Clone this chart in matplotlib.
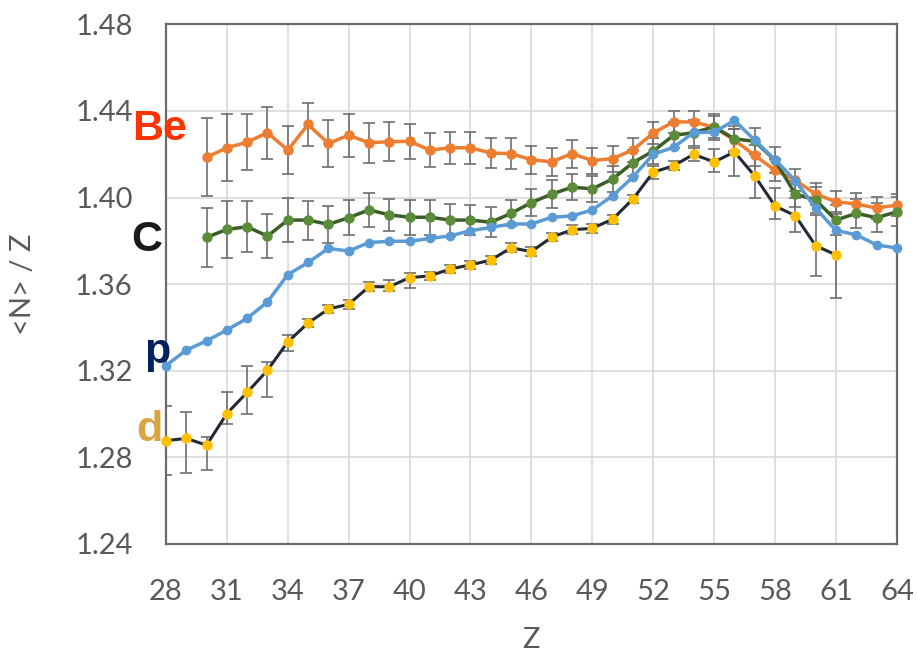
import numpy as np
import matplotlib
matplotlib.use('Agg')
import matplotlib.pyplot as plt

# <N>/Z vs Z for p, d, Be, C fragments
z_p = list(range(28, 65))
n_p = [1.3224, 1.3295, 1.3338, 1.3388, 1.3442, 1.3518, 1.3644, 1.3700, 1.3765, 1.3753,
       1.3792, 1.3798, 1.3798, 1.3811, 1.3823, 1.3847, 1.3862, 1.3878, 1.3878, 1.3909,
       1.3915, 1.3943, 1.4008, 1.4095, 1.4200, 1.4232, 1.4301, 1.4302, 1.4357, 1.4265,
       1.4175, 1.4078, 1.3951, 1.3848, 1.3828, 1.3781, 1.3767]

z_d = list(range(28, 62))
n_d = [1.2877, 1.2887, 1.2856, 1.3002, 1.3100, 1.3202, 1.3333, 1.3420, 1.3485, 1.3507,
       1.3588, 1.3588, 1.3630, 1.3638, 1.3670, 1.3689, 1.3711, 1.3768, 1.3750, 1.3817,
       1.3851, 1.3858, 1.3900, 1.3993, 1.4117, 1.4147, 1.4200, 1.4164, 1.4211, 1.4100,
       1.3961, 1.3916, 1.3778, 1.3735]
d_err_lo = [0.016, 0.016, 0.0116, 0.0047, 0.0098, 0.0124, 0.004, 0.002, 0.002, 0.002,
            0.002, 0.002, 0.0047, 0.002, 0.002, 0.002, 0.002, 0.002, 0.002, 0.002,
            0.002, 0.002, 0.002, 0.002, 0.003, 0.002, 0.003, 0.0044, 0.011, 0.010,
            0.006, 0.0077, 0.014, 0.0197]
d_err_hi = [0.016, 0.012, 0.0036, 0.0098, 0.012, 0.0037, 0.003, 0.002, 0.002, 0.002,
            0.002, 0.003, 0.002, 0.002, 0.002, 0.002, 0.002, 0.002, 0.002, 0.002,
            0.002, 0.002, 0.002, 0.002, 0.003, 0.002, 0.003, 0.006, 0.0104, 0.010,
            0.0084, 0.008, 0.014, 0.019]

z_be = list(range(30, 65))
n_be = [1.4186, 1.4230, 1.4256, 1.4300, 1.4219, 1.4338, 1.4250, 1.4288, 1.4253, 1.4258,
        1.4260, 1.4219, 1.4230, 1.4230, 1.4206, 1.4203, 1.4175, 1.4165, 1.4203, 1.4171,
        1.4180, 1.4220, 1.4298, 1.4350, 1.4349, 1.4325, 1.4265, 1.4195, 1.4126, 1.4080,
        1.4016, 1.3981, 1.3970, 1.3952, 1.3965]
be_err = [0.018, 0.0155, 0.013, 0.012, 0.011, 0.010, 0.0107, 0.010, 0.0093, 0.009,
          0.008, 0.008, 0.0075, 0.0075, 0.007, 0.007, 0.0065, 0.0065, 0.0065, 0.006,
          0.006, 0.0055, 0.005, 0.005, 0.005, 0.005, 0.005, 0.005, 0.005, 0.005,
          0.005, 0.005, 0.005, 0.005, 0.005]

z_c = list(range(30, 65))
n_c = [1.3816, 1.3853, 1.3865, 1.3822, 1.3896, 1.3896, 1.3876, 1.3907, 1.3943, 1.3920,
       1.3909, 1.3909, 1.3896, 1.3896, 1.3886, 1.3927, 1.3977, 1.4016, 1.4048, 1.4040,
       1.4086, 1.4161, 1.4215, 1.4287, 1.4300, 1.4327, 1.4271, 1.4260, 1.4172, 1.4016,
       1.3989, 1.3896, 1.3927, 1.3907, 1.3934]
c_err = [0.0136, 0.013, 0.0117, 0.010, 0.010, 0.009, 0.0085, 0.008, 0.008, 0.0075,
         0.008, 0.008, 0.0073, 0.007, 0.007, 0.006, 0.0064, 0.0066, 0.006, 0.006,
         0.006, 0.006, 0.006, 0.006, 0.006, 0.006, 0.006, 0.006, 0.006, 0.006,
         0.006, 0.007, 0.0067, 0.0067, 0.0067]

x_ticks = list(range(28, 65, 3))
y_ticks = [1.24, 1.28, 1.32, 1.36, 1.40, 1.44, 1.48]

plt.rcParams['font.family'] = ['Lato', 'DejaVu Sans']

fig = plt.figure(figsize=(9.17, 6.6), dpi=100)
ax = fig.add_axes([0.181, 0.176, 0.797, 0.787])

ebar = dict(fmt='none', ecolor='#6e6e6e', elinewidth=1.2, capsize=4.5, capthick=1.2, zorder=2)
ax.errorbar(z_d, n_d, yerr=[d_err_lo, d_err_hi], **ebar)
ax.errorbar(z_be, n_be, yerr=be_err, **ebar)
ax.errorbar(z_c, n_c, yerr=c_err, **ebar)

ax.plot(z_d, n_d, '-', color='#222a35', lw=2.2, zorder=3, clip_on=False)
ax.plot(z_d, n_d, 'o', color='#ffc000', ms=6.5, mec='#ffc000', zorder=3.1, clip_on=False)
ax.plot(z_be, n_be, '-o', color='#ed7d31', lw=2.5, ms=6.5, zorder=4, clip_on=False)
ax.plot(z_c, n_c, '-', color='#3b5e29', lw=2.5, zorder=5, clip_on=False)
ax.plot(z_c, n_c, 'o', color='#5b8c3a', ms=6.5, zorder=5.1, clip_on=False)
ax.plot(z_p, n_p, '-o', color='#5b9bd5', lw=2.5, ms=6, zorder=6, clip_on=False)

ax.set_xlim(28, 64)
ax.set_ylim(1.24, 1.48)
ax.set_xticks(x_ticks)
ax.set_yticks(y_ticks)
ax.set_yticklabels([f'{v:.2f}' for v in y_ticks])
ax.grid(True, color='#d9d9d9', lw=1.2)
ax.set_axisbelow(True)
ax.tick_params(length=0, labelsize=21, labelcolor='#595959')
ax.tick_params(axis='x', pad=25)
ax.tick_params(axis='y', pad=24)
for s in ax.spines.values():
    s.set_color('#6a6a6a')
    s.set_linewidth(1.6)

ax.set_xlabel('Z', fontsize=21, color='#595959', labelpad=16)
ax.set_ylabel('<N> / Z', fontsize=21, color='#595959', labelpad=28)

lab = dict(fontsize=31, fontweight='bold', family='Liberation Sans', ha='center', va='center')
fig.text(160 / 917, 1 - 129 / 660, 'Be', color='#ff3300', **lab)
fig.text(147 / 917, 1 - 240 / 660, 'C', color='#1a1a1a', **lab)
fig.text(157 / 917, 1 - 352 / 660, 'p', color='#002060', **lab)
fig.text(149 / 917, 1 - 430 / 660, 'd', color='#d9a441', **lab)

fig.savefig('out.png', dpi=100)
